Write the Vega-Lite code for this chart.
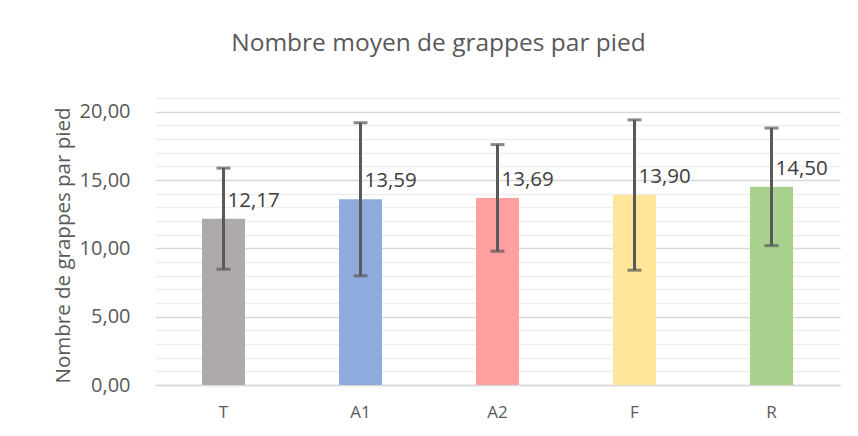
{
  "$schema": "https://vega.github.io/schema/vega-lite/v6.json",
  "width": 685,
  "height": 287,
  "autosize": "none",
  "padding": {"left": 155, "top": 98, "right": 18, "bottom": 51},
  "background": "white",
  "title": {
    "text": "Nombre moyen de grappes par pied",
    "font": "Open Sans",
    "fontSize": 24.5,
    "fontWeight": "normal",
    "color": "#595959",
    "anchor": "middle",
    "dx": -59,
    "offset": 32
  },
  "config": {
    "view": {"stroke": null},
    "font": "Open Sans",
    "locale": {"number": {"decimal": ",", "thousands": " ", "grouping": [3], "currency": ["", " €"]}},
    "axisY": {
      "labelOverlap": false,
      "labelBound": false,
      "labelFlush": false,
      "gridWidth": 1.5,
      "ticks": false,
      "domain": false,
      "labelFont": "Open Sans",
      "labelFontSize": 20,
      "labelColor": "#595959",
      "labelPadding": 25,
      "titleFont": "Open Sans",
      "titleFontSize": 20.5,
      "titleFontWeight": "normal",
      "titleColor": "#595959",
      "titleX": -92,
      "titleY": 147,
      "titleBaseline": "middle",
      "titleAngle": -90
    }
  },
  "data": {
    "values": [
      {"groupe": "T", "moyenne": 12.17, "bas": 8.47, "haut": 15.87},
      {"groupe": "A1", "moyenne": 13.59, "bas": 7.99, "haut": 19.19},
      {"groupe": "A2", "moyenne": 13.69, "bas": 9.79, "haut": 17.59},
      {"groupe": "F", "moyenne": 13.90, "bas": 8.40, "haut": 19.40},
      {"groupe": "R", "moyenne": 14.50, "bas": 10.20, "haut": 18.80}
    ]
  },
  "encoding": {
    "x": {
      "field": "groupe",
      "type": "nominal",
      "sort": null,
      "scale": {"paddingInner": 0, "paddingOuter": 0},
      "axis": {
        "title": null,
        "labelAngle": 0,
        "labelFont": "Open Sans",
        "labelFontSize": 17,
        "labelColor": "#595959",
        "labelPadding": 19,
        "ticks": false,
        "domainColor": "#D9D9D9",
        "domainWidth": 1.5
      }
    }
  },
  "layer": [
    {
      "mark": {"type": "bar", "width": 43},
      "encoding": {
        "y": {
          "field": "moyenne",
          "type": "quantitative",
          "scale": {"domain": [0, 21], "nice": false},
          "axis": {
            "values": [0,1,2,3,4,5,6,7,8,9,10,11,12,13,14,15,16,17,18,19,20,21],
            "format": ".2f",
            "labelExpr": "datum.value % 5 === 0 ? datum.label : ''",
            "gridColor": {"condition": {"test": "datum.value % 5 === 0", "value": "#D9D9D9"}, "value": "#EDEDED"},
            "title": "Nombre de grappes par pied"
          }
        },
        "color": {
          "field": "groupe",
          "type": "nominal",
          "scale": {"domain": ["T", "A1", "A2", "F", "R"], "range": ["#AEAAAA", "#8FAADC", "#FF9F9F", "#FFE699", "#A9D18E"]},
          "legend": null
        }
      }
    },
    {
      "mark": {"type": "rule", "color": "#595959", "strokeWidth": 3},
      "encoding": {
        "y": {"field": "bas", "type": "quantitative", "axis": {
            "values": [0,1,2,3,4,5,6,7,8,9,10,11,12,13,14,15,16,17,18,19,20,21],
            "format": ".2f",
            "labelExpr": "datum.value % 5 === 0 ? datum.label : ''",
            "gridColor": {"condition": {"test": "datum.value % 5 === 0", "value": "#D9D9D9"}, "value": "#EDEDED"},
            "title": "Nombre de grappes par pied"
          }},
        "y2": {"field": "haut"}
      }
    },
    {
      "mark": {"type": "tick", "color": "#595959", "thickness": 3, "size": 14, "orient": "horizontal"},
      "encoding": {"y": {"field": "bas", "type": "quantitative", "axis": {
            "values": [0,1,2,3,4,5,6,7,8,9,10,11,12,13,14,15,16,17,18,19,20,21],
            "format": ".2f",
            "labelExpr": "datum.value % 5 === 0 ? datum.label : ''",
            "gridColor": {"condition": {"test": "datum.value % 5 === 0", "value": "#D9D9D9"}, "value": "#EDEDED"},
            "title": "Nombre de grappes par pied"
          }}}
    },
    {
      "mark": {"type": "tick", "color": "#595959", "thickness": 3, "size": 14, "orient": "horizontal"},
      "encoding": {"y": {"field": "haut", "type": "quantitative", "axis": {
            "values": [0,1,2,3,4,5,6,7,8,9,10,11,12,13,14,15,16,17,18,19,20,21],
            "format": ".2f",
            "labelExpr": "datum.value % 5 === 0 ? datum.label : ''",
            "gridColor": {"condition": {"test": "datum.value % 5 === 0", "value": "#D9D9D9"}, "value": "#EDEDED"},
            "title": "Nombre de grappes par pied"
          }}}
    },
    {
      "mark": {"type": "text", "align": "left", "baseline": "alphabetic", "dx": 4, "dy": -12, "font": "Open Sans", "fontSize": 20.5, "color": "#404040"},
      "encoding": {
        "y": {"field": "moyenne", "type": "quantitative", "axis": {
            "values": [0,1,2,3,4,5,6,7,8,9,10,11,12,13,14,15,16,17,18,19,20,21],
            "format": ".2f",
            "labelExpr": "datum.value % 5 === 0 ? datum.label : ''",
            "gridColor": {"condition": {"test": "datum.value % 5 === 0", "value": "#D9D9D9"}, "value": "#EDEDED"},
            "title": "Nombre de grappes par pied"
          }},
        "text": {"field": "moyenne", "type": "quantitative", "format": ".2f"}
      }
    }
  ]
}
